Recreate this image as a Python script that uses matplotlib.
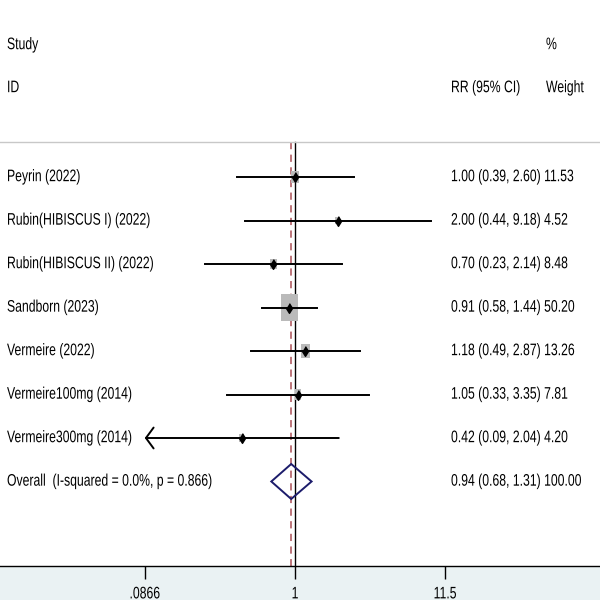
import numpy as np
import matplotlib
matplotlib.use("Agg")
import matplotlib.pyplot as plt
from matplotlib.patches import Rectangle, Polygon
from matplotlib.patheffects import AbstractPathEffect
from matplotlib.transforms import Affine2D

plt.rcParams['font.family'] = ['Liberation Sans', 'DejaVu Sans']

studies = ["Peyrin (2022)", "Rubin(HIBISCUS I) (2022)", "Rubin(HIBISCUS II) (2022)",
           "Sandborn (2023)", "Vermeire (2022)", "Vermeire100mg (2014)", "Vermeire300mg (2014)"]
rr = [1.00, 2.00, 0.70, 0.91, 1.18, 1.05, 0.42]
lower = [0.39, 0.44, 0.23, 0.58, 0.49, 0.33, 0.09]
upper = [2.60, 9.18, 2.14, 1.44, 2.87, 3.35, 2.04]
weights = [11.53, 4.52, 8.48, 50.20, 13.26, 7.81, 4.20]

overall_label = "Overall  (I-squared = 0.0%, p = 0.866)"
overall_rr, overall_lo, overall_hi = 0.94, 0.68, 1.31

tick_vals = [0.0866, 1, 11.5]
tick_labels = [".0866", "1", "11.5"]


class Tall(AbstractPathEffect):
    """stretch glyphs vertically (the Stata font is a tall narrow one)"""
    def __init__(self, sy=1.37, yc=26):
        super().__init__()
        self.sy = sy
        self.yc = yc

    def draw_path(self, renderer, gc, tpath, affine, rgbFace=None):
        t = Affine2D().translate(0, -self.yc).scale(1, self.sy).translate(0, self.yc) + affine
        renderer.draw_path(gc, tpath, t, rgbFace)


tall = [Tall()]

W, H = 600, 600
fig = plt.figure(figsize=(6, 6), dpi=100)
fig.patch.set_facecolor("#eaf2f3")
ax = fig.add_axes([0, 34 / H, 1, 566 / H])
ax.set_facecolor("white")

# log x-scale: 0.0866 -> 145px, 1 -> 295px, 11.5 -> 445px
px_per_ln = 150 / np.log(11.5)
ax.set_xscale("log")
ax.set_xlim(np.exp(-295 / px_per_ln), np.exp(305 / px_per_ln))
row_h = 43.5
ax.set_ylim((566 - 177) / row_h, -177 / row_h)

for s in ["top", "left", "right"]:
    ax.spines[s].set_visible(False)
ax.spines["bottom"].set_linewidth(1.0)
ax.set_yticks([])
ax.set_xticks(tick_vals)
ax.set_xticklabels(tick_labels)
ax.minorticks_off()
ax.tick_params(axis="x", direction="out", length=9, width=1, pad=7, labelsize=8.8)
for lab in ax.get_xticklabels():
    lab.set_path_effects(tall)

fs = 8.8
txt = ax.get_yaxis_transform()  # x in axes fraction, y in data


def put(px, y, s):
    ax.text(px / W, y, s, transform=txt, va="center", ha="left", fontsize=fs,
            path_effects=tall)


# header
put(7, (45 - 177) / row_h, "Study")
put(7, (88 - 177) / row_h, "ID")
put(451, (88 - 177) / row_h, "RR (95% CI)")
put(546, (45 - 177) / row_h, "%")
put(546, (88 - 177) / row_h, "Weight")

sep_y = (142 - 177) / row_h
ax.axhline(sep_y, color="#c8c8c8", lw=1.0)
ybot = (566 - 177) / row_h
ax.plot([1, 1], [sep_y, ybot], color="black", lw=1.0, zorder=1)
ax.plot([overall_rr, overall_rr], [sep_y, ybot], color="#b86a70", lw=1.3,
        ls=(0, (4, 3)), zorder=1)

ln_per_px = 1 / px_per_ln
diam = [(0, 1.6), (1, 0), (0, -1.6), (-1, 0)]

for i, (name, est, lo, hi, w) in enumerate(zip(studies, rr, lower, upper, weights)):
    # weight box
    bw = 2.45 * np.sqrt(w)
    bh = 1.5 * bw
    half = bw / 2 * ln_per_px
    ax.add_patch(Rectangle((est * np.exp(-half), i - bh / 2 / row_h),
                           est * np.exp(half) - est * np.exp(-half), bh / row_h,
                           facecolor="#bababa", edgecolor="none", zorder=2))
    if lo < tick_vals[0] * 1.05:
        ax.annotate("", xy=(tick_vals[0], i), xytext=(hi, i),
                    arrowprops=dict(arrowstyle="->,head_length=0.55,head_width=0.75",
                                    lw=1.4, color="black", shrinkA=0, shrinkB=0,
                                    mutation_scale=10), zorder=3)
    else:
        ax.plot([lo, hi], [i, i], color="black", lw=1.4, zorder=3)
    ax.plot([est], [i], marker=diam, color="black", markersize=7, zorder=4)
    put(7, i, name)
    put(451, i, f"{est:.2f} ({lo:.2f}, {hi:.2f}) {w:.2f}")

k = len(studies)
dh = 17.5 / row_h
ax.add_patch(Polygon([(overall_lo, k), (overall_rr, k - dh), (overall_hi, k), (overall_rr, k + dh)],
                     closed=True, facecolor="none", edgecolor="#1c1c6b", lw=1.4, zorder=4))
put(7, k, overall_label)
put(451, k, f"{overall_rr:.2f} ({overall_lo:.2f}, {overall_hi:.2f}) 100.00")

fig.savefig("out.png", dpi=100, facecolor=fig.get_facecolor())
